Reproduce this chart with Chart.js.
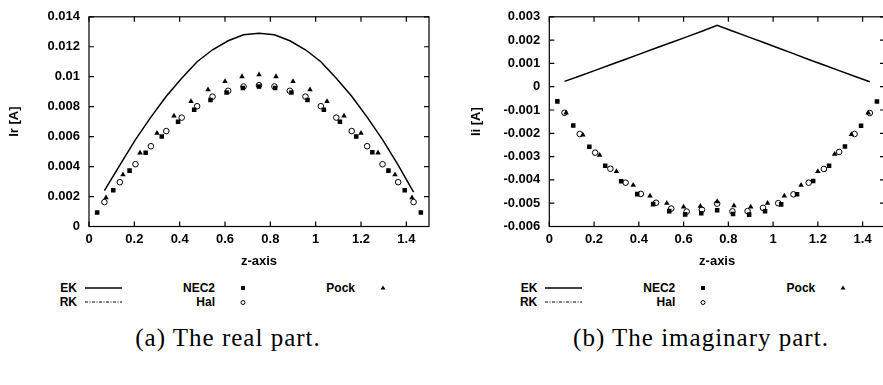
<!DOCTYPE html>
<html><head><meta charset="utf-8">
<script src="https://cdn.jsdelivr.net/npm/chart.js@4.4.1/dist/chart.umd.min.js"></script>
<style>
html,body{margin:0;padding:0;background:#fff;overflow:hidden;width:883px;height:385px;position:relative;}
.cv{position:absolute;top:0;}
.lg{position:absolute;font:bold 12px "Liberation Sans",Arial,sans-serif;color:#000;line-height:14px;height:14px;white-space:nowrap;text-align:right;width:60px;}
.smp{position:absolute;}
.cap{position:absolute;font:25px "Liberation Serif","Times New Roman",serif;letter-spacing:1px;white-space:nowrap;line-height:30px;transform:translateX(-50%);color:#000;}
</style></head><body>
<canvas id="c1" class="cv" style="left:0" width="440" height="275"></canvas>
<canvas id="c2" class="cv" style="left:440px" width="450" height="275"></canvas>
<div id="legends"></div>
<div class="cap" style="left:228px;top:323px">(a) The real part.</div>
<div class="cap" style="left:701px;top:323px">(b) The imaginary part.</div>
<script>
// ---- data ----
const xNEC2 = [0.036,0.107,0.179,0.25,0.321,0.393,0.464,0.536,0.607,0.679,0.75,0.821,0.893,0.964,1.036,1.107,1.179,1.25,1.321,1.393,1.464];
const xHal  = [0.068,0.136,0.205,0.273,0.341,0.409,0.477,0.545,0.614,0.682,0.75,0.818,0.886,0.955,1.023,1.091,1.159,1.227,1.295,1.364,1.432];
const xPock = [0.075,0.15,0.225,0.3,0.375,0.45,0.525,0.6,0.675,0.75,0.825,0.9,0.975,1.05,1.125,1.2,1.275,1.35,1.425];
const xEK   = xHal;

const ekReal   = [0.0024,0.0041,0.0058,0.0073,0.0087,0.0099,0.0110,0.0118,0.0124,0.0128,0.0129,0.0128,0.0124,0.0118,0.0110,0.0099,0.0087,0.0073,0.0058,0.0041,0.0023];
const rkReal   = []; // RK coincides with EK; not separately visible
const nec2Real = [0.00093,0.00242,0.00373,0.00492,0.00601,0.00699,0.0078,0.00845,0.00895,0.00924,0.00935,0.00924,0.00895,0.00845,0.0078,0.00699,0.00601,0.00495,0.00373,0.00242,0.00093];
const halReal  = [0.00163,0.00296,0.00416,0.00536,0.00637,0.00727,0.00803,0.00867,0.00906,0.00935,0.00943,0.00935,0.00906,0.00867,0.00803,0.00727,0.00637,0.00536,0.00416,0.00296,0.00163];
const pockReal = [0.00193,0.00346,0.00492,0.00623,0.00738,0.00835,0.00913,0.00968,0.01001,0.01013,0.01001,0.00968,0.00913,0.00835,0.00738,0.00623,0.00492,0.00346,0.00193];

const ekImag   = [0.00023,0.00046,0.00070,0.00094,0.00118,0.00142,0.00166,0.00190,0.00214,0.00238,0.00263,0.00239,0.00215,0.00191,0.00166,0.00142,0.00117,0.00093,0.00069,0.00045,0.00021];
const rkImag   = [];
const nec2Imag = [-0.00063,-0.00167,-0.00258,-0.00339,-0.00406,-0.00461,-0.00504,-0.00534,-0.00548,-0.00543,-0.0053,-0.00546,-0.00549,-0.00535,-0.00505,-0.00462,-0.00405,-0.00339,-0.00257,-0.00168,-0.00064];
const halImag  = [-0.00112,-0.00203,-0.00283,-0.00352,-0.00412,-0.0046,-0.00498,-0.00523,-0.00536,-0.00528,-0.00502,-0.00535,-0.00534,-0.0052,-0.005,-0.00462,-0.00412,-0.00353,-0.0028,-0.00203,-0.00113];
const pockImag = [-0.00112,-0.00207,-0.00294,-0.00364,-0.00423,-0.00469,-0.005,-0.00516,-0.00513,-0.00493,-0.00511,-0.00516,-0.005,-0.00469,-0.00423,-0.00364,-0.0029,-0.00205,-0.00112];

const xTicksLabel = 'z-axis';
const legendNames = ['EK','RK','NEC2','Hal','Pock'];

// ---- helpers ----
const pts = (xs, ys) => ys.map((v, i) => ({x: xs[i], y: v}));
const FONT = '"Liberation Sans", Arial, sans-serif';
Chart.defaults.font.family = FONT;
Chart.defaults.color = '#000';

const framePlugin = {
  id: 'frame',
  afterDatasetsDraw(chart) {
    const {ctx, chartArea: a, scales: {x, y}} = chart;
    ctx.save();
    ctx.strokeStyle = '#000';
    ctx.lineWidth = 1.2;
    ctx.strokeRect(a.left, a.top, a.right - a.left, a.bottom - a.top);
    const L = 5;
    ctx.beginPath();
    x.ticks.forEach(t => {
      const p = x.getPixelForValue(t.value);
      ctx.moveTo(p, a.bottom); ctx.lineTo(p, a.bottom - L);
      ctx.moveTo(p, a.top); ctx.lineTo(p, a.top + L);
    });
    y.ticks.forEach(t => {
      const p = y.getPixelForValue(t.value);
      ctx.moveTo(a.left, p); ctx.lineTo(a.left + L, p);
      ctx.moveTo(a.right, p); ctx.lineTo(a.right - L, p);
    });
    ctx.stroke();
    ctx.restore();
  }
};

function makeChart(id, d, yMin, yMax, yTitle, yWidth, yTitlePad, padRight, padTop) {
  const fmt = v => String(+(+v).toFixed(4));
  return new Chart(document.getElementById(id), {
    type: 'scatter',
    data: {
      datasets: [
        {label: 'EK', data: pts(xEK, d.ek), showLine: true, borderColor: '#000', borderWidth: 1.5, pointRadius: 0, tension: 0},
        {label: 'RK', data: pts(xEK, d.rk), showLine: true, borderColor: '#000', borderWidth: 1, borderDash: [4,2,1,2], pointRadius: 0},
        {label: 'NEC2', data: pts(xNEC2, d.nec2), pointStyle: 'rect', pointRadius: 3.2, backgroundColor: '#000', borderColor: '#000', borderWidth: 0},
        {label: 'Hal', data: pts(xHal, d.hal), pointStyle: 'circle', pointRadius: 2.8, backgroundColor: 'rgba(0,0,0,0)', borderColor: '#000', borderWidth: 1},
        {label: 'Pock', data: pts(xPock, d.pock), pointStyle: 'triangle', pointRadius: 3.2, backgroundColor: '#000', borderColor: '#000', borderWidth: 0}
      ]
    },
    options: {
      responsive: false, animation: false, devicePixelRatio: 1,
      layout: {padding: {left: 0, right: padRight, top: padTop, bottom: 0}},
      plugins: {legend: {display: false}, tooltip: {enabled: false}},
      elements: {line: {fill: false}},
      scales: {
        x: {
          type: 'linear', min: 0, max: 1.5,
          grid: {display: false, drawTicks: false}, border: {display: false},
          ticks: {stepSize: 0.2, includeBounds: false, padding: 5, maxRotation: 0, autoSkip: false,
                  font: {size: 13, weight: 'bold'}, color: '#000', callback: fmt},
          title: {display: true, text: xTicksLabel, font: {size: 13, weight: 'bold'}, color: '#000', padding: {top: 0, bottom: 5.5}},
          afterFit(s) { s.height = 48.5; }
        },
        y: {
          type: 'linear', min: yMin, max: yMax,
          grid: {display: false, drawTicks: false}, border: {display: false},
          ticks: {stepSize: 0.001 * (yMax - yMin > 0.01 ? 2 : 1), includeBounds: false, padding: 9, autoSkip: false,
                  font: {size: 13, weight: 'bold'}, color: '#000', callback: fmt},
          title: {display: true, text: yTitle, font: {size: 13, weight: 'bold'}, color: '#000', padding: {top: yTitlePad, bottom: 0}},
          afterFit(s) { s.width = yWidth; }
        }
      }
    },
    plugins: [framePlugin]
  });
}

makeChart('c1', {ek: ekReal, rk: rkReal, nec2: nec2Real, hal: halReal, pock: pockReal}, 0, 0.014, 'Ir [A]', 89, 7, 11, 13);
makeChart('c2', {ek: ekImag, rk: rkImag, nec2: nec2Imag, hal: halImag, pock: pockImag}, -0.006, 0.003, 'Ii [A]', 109.3, 29, 2, 11.7);

// ---- legends (gnuplot-style key under each plot) ----
function legend(ox) {
  const host = document.getElementById('legends');
  const r1 = 281, r2 = 295;
  const items = [
    {name: legendNames[0], right: ox - 12, top: r1, kind: 'solid'},
    {name: legendNames[1], right: ox - 12, top: r2, kind: 'dashdot'},
    {name: legendNames[2], right: ox + 126, top: r1, kind: 'rect'},
    {name: legendNames[3], right: ox + 126, top: r2, kind: 'circle'},
    {name: legendNames[4], right: ox + 266, top: r1, kind: 'tri'}
  ];
  items.forEach(it => {
    const d = document.createElement('div');
    d.className = 'lg';
    d.style.left = (it.right - 60) + 'px';
    d.style.top = it.top + 'px';
    d.textContent = it.name;
    host.appendChild(d);
    const NS = 'http://www.w3.org/2000/svg';
    const s = document.createElementNS(NS, 'svg');
    s.setAttribute('class', 'smp');
    let w, shape;
    if (it.kind === 'solid' || it.kind === 'dashdot') {
      w = 38;
      shape = document.createElementNS(NS, 'line');
      shape.setAttribute('x1', 0); shape.setAttribute('x2', 37);
      shape.setAttribute('y1', 7); shape.setAttribute('y2', 7);
      shape.setAttribute('stroke', '#000');
      shape.setAttribute('stroke-width', it.kind === 'solid' ? 1.3 : 1);
      if (it.kind === 'dashdot') shape.setAttribute('stroke-dasharray', '3,1.5,1,1.5');
      s.style.left = (it.right + 8) + 'px';
    } else {
      w = 10;
      if (it.kind === 'rect') {
        shape = document.createElementNS(NS, 'rect');
        shape.setAttribute('x', 3); shape.setAttribute('y', 5); shape.setAttribute('width', 4); shape.setAttribute('height', 4);
        shape.setAttribute('fill', '#000');
      } else if (it.kind === 'circle') {
        shape = document.createElementNS(NS, 'circle');
        shape.setAttribute('cx', 5); shape.setAttribute('cy', 7.5); shape.setAttribute('r', 2);
        shape.setAttribute('fill', 'none'); shape.setAttribute('stroke', '#000'); shape.setAttribute('stroke-width', 1);
      } else {
        shape = document.createElementNS(NS, 'polygon');
        shape.setAttribute('points', '5,4.5 7.5,8.5 2.5,8.5');
        shape.setAttribute('fill', '#000');
      }
      s.style.left = (it.right + 23) + 'px';
    }
    s.setAttribute('width', w); s.setAttribute('height', 14);
    s.style.top = it.top + 'px';
    s.appendChild(shape);
    host.appendChild(s);
  });
}
legend(89);
legend(549.3);
</script>
</body></html>
